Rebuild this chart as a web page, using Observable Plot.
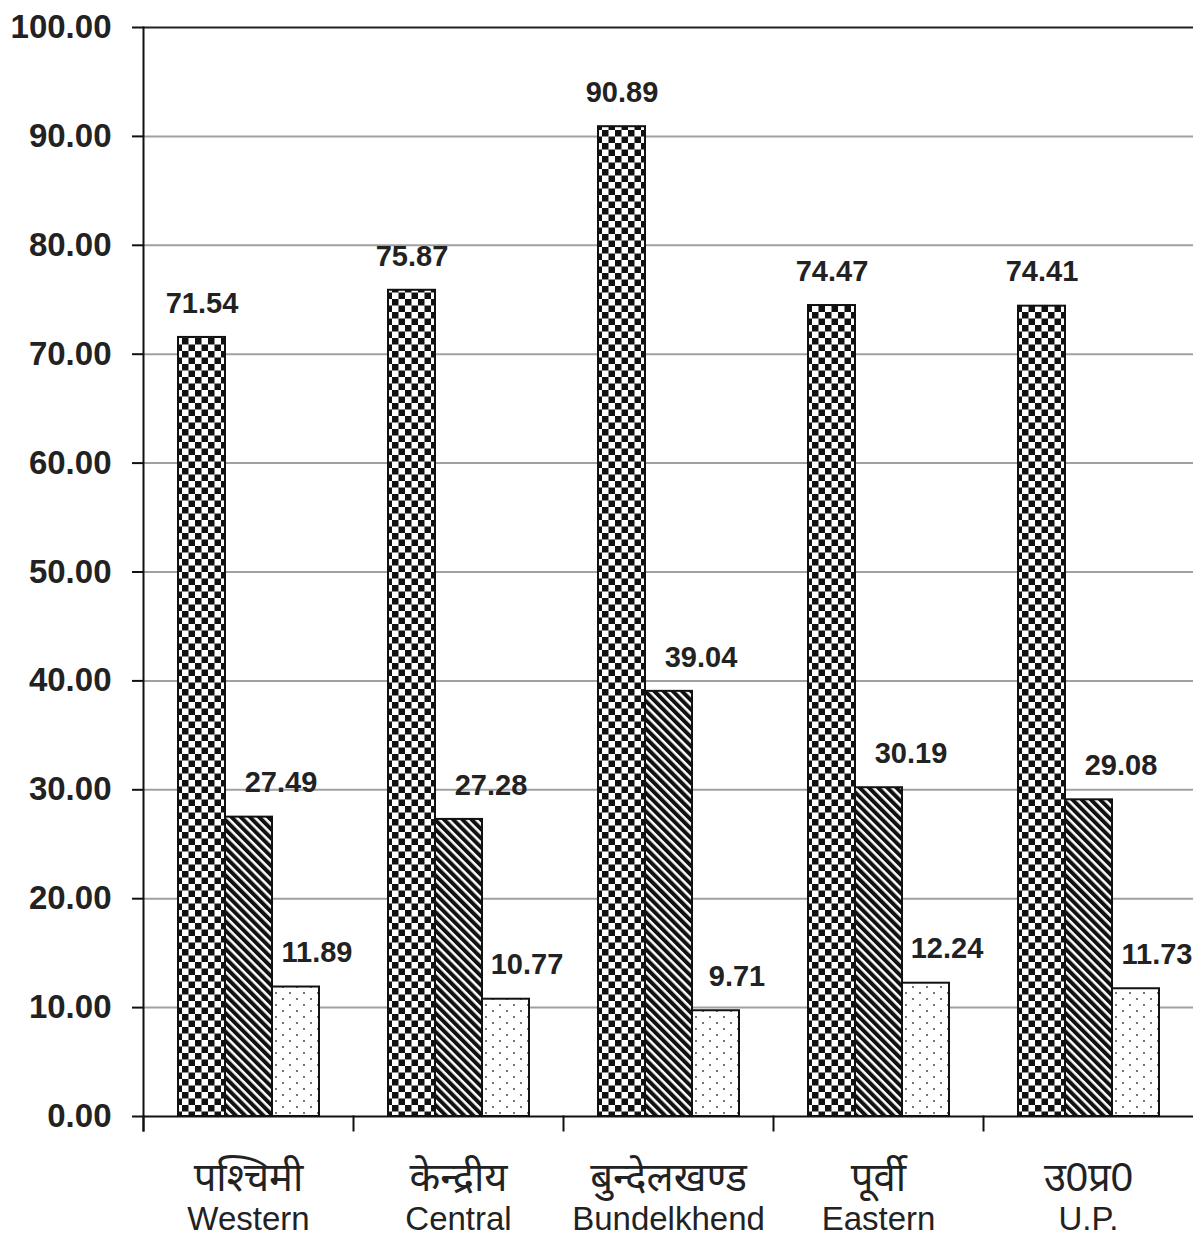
<!DOCTYPE html>
<html><head><meta charset="utf-8">
<script src="https://cdn.jsdelivr.net/npm/d3@7"></script>
<script src="https://cdn.jsdelivr.net/npm/@observablehq/plot@0.6"></script>
<style>
body{margin:0;background:#fff}
#chart svg{font-family:"Liberation Sans", Arial, "Noto Sans", sans-serif}
</style>
</head><body><div id="chart"></div>
<script>
const regionsHi = ["पश्चिमी", "केन्द्रीय", "बुन्देलखण्ड", "पूर्वी", "उ0प्र0"];
const regionsEn = ["Western", "Central", "Bundelkhend", "Eastern", "U.P."];
const seriesKeys = ["s1", "s2", "s3"];
const values1 = [71.54, 75.87, 90.89, 74.47, 74.41];
const values2 = [27.49, 27.28, 39.04, 30.19, 29.08];
const values3 = [11.89, 10.77, 9.71, 12.24, 11.73];
const yTicks = [0, 10, 20, 30, 40, 50, 60, 70, 80, 90, 100];

const seriesValues = {s1: values1, s2: values2, s3: values3};
const rows = [];
regionsHi.forEach((r, i) => {
  seriesKeys.forEach(s => rows.push({region: r, series: s, value: seriesValues[s][i]}));
});
const labelRows = regionsHi.map((r, i) => ({region: r, hi: r, en: regionsEn[i]}));

const fills = {s1: "url(#pat-checker)", s2: "url(#pat-hatch)", s3: "url(#pat-dots)"};
const labelDx = {s1: 0, s2: 32, s3: 21};

const H = 1238, mTop = 27, mBottom = 122;
const innerH = H - mTop - mBottom;

const marks = [
  Plot.ruleY(yTicks.filter(t => t > 0 && t < 100), {y: d => d, stroke: "#a0a0a0", strokeWidth: 2}),
  Plot.ruleY([100], {stroke: "#222", strokeWidth: 2}),
  ...seriesKeys.map(s => Plot.barY(rows.filter(d => d.series === s), {
    fx: "region", x: "series", y: "value", fill: fills[s], stroke: "#111", strokeWidth: 2
  })),
  ...seriesKeys.map(s => Plot.text(rows.filter(d => d.series === s), {
    fx: "region", x: "series", y: "value", text: d => d.value.toFixed(2),
    dy: -34, dx: labelDx[s], fontSize: 29, fontWeight: "bold", fill: "#222"
  })),
  Plot.ruleY([0], {stroke: "#111", strokeWidth: 2}),
  Plot.frame({anchor: "left", stroke: "#111", strokeWidth: 2, insetBottom: -14, facetAnchor: "left"}),
  Plot.frame({anchor: "left", stroke: "#111", strokeWidth: 2, insetTop: innerH, insetBottom: -14}),
  Plot.axisY({ticks: yTicks, tickSize: 11, tickPadding: 21, tickFormat: d => d.toFixed(2), label: null,
    fontSize: 33, fontWeight: "bold", stroke: "#111", strokeWidth: 2, fill: "#222"}),
  Plot.text(labelRows, {fx: "region", text: "hi", frameAnchor: "bottom", dy: 74, fontSize: 40, fill: "#222"}),
  Plot.text(labelRows, {fx: "region", text: "en", frameAnchor: "bottom", dy: 113, fontSize: 33, fill: "#222"})
];

const chart = Plot.plot({
  width: 1193,
  height: H,
  marginLeft: 143,
  marginRight: 0,
  marginTop: mTop,
  marginBottom: mBottom,
  fx: {domain: regionsHi, padding: 0, axis: null},
  x: {domain: seriesKeys, paddingInner: 0, paddingOuter: 0.71, axis: null},
  y: {domain: [0, 100], axis: null},
  style: {background: "#fff", overflow: "visible"},
  marks
});

const svg = d3.select(chart);
const defs = svg.insert("defs", ":first-child");
// checkerboard
const c = 6.5;
const pc = defs.append("pattern").attr("id", "pat-checker").attr("patternUnits", "userSpaceOnUse")
  .attr("width", 2 * c).attr("height", 2 * c);
pc.append("rect").attr("width", 2 * c).attr("height", 2 * c).attr("fill", "#fff");
pc.append("rect").attr("width", c).attr("height", c).attr("fill", "#111");
pc.append("rect").attr("x", c).attr("y", c).attr("width", c).attr("height", c).attr("fill", "#111");
// diagonal hatch
const ph = defs.append("pattern").attr("id", "pat-hatch").attr("patternUnits", "userSpaceOnUse")
  .attr("width", 6.5).attr("height", 6.5).attr("patternTransform", "rotate(-45)");
ph.append("rect").attr("width", 6.5).attr("height", 6.5).attr("fill", "#fff");
ph.append("rect").attr("width", 4).attr("height", 6.5).attr("fill", "#111");
// dots
const pd = defs.append("pattern").attr("id", "pat-dots").attr("patternUnits", "userSpaceOnUse")
  .attr("width", 14).attr("height", 12);
pd.append("rect").attr("width", 14).attr("height", 12).attr("fill", "#fff");
pd.append("circle").attr("cx", 3).attr("cy", 3).attr("r", 0.9).attr("fill", "#333");
pd.append("circle").attr("cx", 10).attr("cy", 9).attr("r", 0.9).attr("fill", "#333");

document.getElementById("chart").appendChild(chart);
</script>
</body></html>
